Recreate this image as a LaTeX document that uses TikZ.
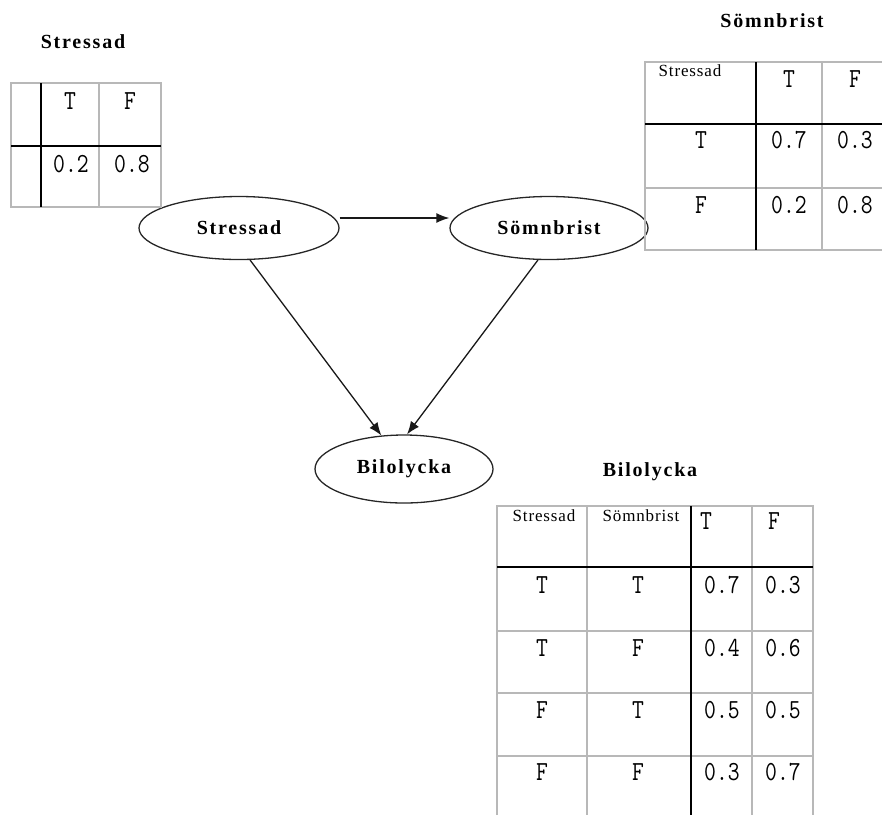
\documentclass[tikz,border=0pt]{standalone}
\usepackage{fontspec}
\usepackage{graphicx}
\usetikzlibrary{shapes.geometric,arrows.meta}
\setmainfont{Liberation Serif}
\newfontfamily\titlefont[LetterSpace=9]{Liberation Serif}
\newfontfamily\headfont[LetterSpace=5]{Liberation Serif}
\newcommand{\cellval}[1]{{\fontsize{23}{23}\ttfamily\scalebox{1}[1.2]{#1}}}
\begin{document}
\begin{tikzpicture}[x=1pt,y=-1pt,
  varnode/.style={ellipse,draw=black!85,line width=1.3pt,inner sep=0pt,
    font=\titlefont\bfseries\fontsize{20}{20}\selectfont},
  title/.style={inner sep=0pt,font=\titlefont\bfseries\fontsize{20}{20}\selectfont},
  head/.style={inner sep=0pt,font=\headfont\fontsize{17}{17}\selectfont},
  val/.style={inner sep=0pt},
  edge/.style={line width=1.3pt,draw=black!90,-{Latex[length=13pt,width=10pt]}},
  thin/.style={line width=1.5pt,draw=black!28},
  thick/.style={line width=2pt,draw=black}]
\useasboundingbox (0,0) rectangle (882,815);

% ---- nodes of the network ----
\node[varnode,minimum width=200pt,minimum height=63pt] (s) at (239,228) {Stressad};
\node[varnode,minimum width=198pt,minimum height=63pt] (m) at (549,228) {Sömnbrist};
\node[varnode,minimum width=178pt,minimum height=68pt] (b) at (404,469) {Bilolycka};

\draw[edge] ([yshift=10pt]s.east) -- ([yshift=10pt]m.west);
\draw[edge] (s.-71) -- (b.124);
\draw[edge] (m.-109) -- (b.85);

% ---- table: Stressad ----
\node[title] (ts) at (83,42) {Stressad};
\draw[thin] (11,83) rectangle (161,207);
\draw[thin] (99,83) -- (99,207);
\draw[thick] (41,83) -- (41,207);
\draw[thick] (11,146) -- (161,146);
\node[val] (s1) at (70,101) {\cellval{T}};
\node[val] (s2) at (130,101) {\cellval{F}};
\node[val] (s3) at (71,164) {\cellval{0.2}};
\node[val] (s4) at (132,164) {\cellval{0.8}};

% ---- table: Sömnbrist ----
\node[title] (tm) at (772,21) {Sömnbrist};
\draw[thin] (882,62) -- (645,62) -- (645,250) -- (882,250);
\draw[thin] (645,188) -- (882,188);
\draw[thin] (822,62) -- (822,250);
\draw[thick] (756,62) -- (756,250);
\draw[thick] (645,124) -- (882,124);
\node[head] (m0) at (690,71) {Stressad};
\node[val] (m1) at (789,79) {\cellval{T}};
\node[val] (m2) at (855,79) {\cellval{F}};
\node[val] (m3) at (701,140) {\cellval{T}};
\node[val] (m4) at (789,140) {\cellval{0.7}};
\node[val] (m5) at (855,140) {\cellval{0.3}};
\node[val] (m6) at (701,205) {\cellval{F}};
\node[val] (m7) at (789,205) {\cellval{0.2}};
\node[val] (m8) at (855,205) {\cellval{0.8}};

% ---- table: Bilolycka ----
\node[title] (tb) at (650,472) {Bilolycka};
\draw[thin] (497,815) -- (497,506) -- (813,506) -- (813,815);
\draw[thin] (587,506) -- (587,815);
\draw[thin] (752,506) -- (752,815);
\foreach \yy in {631,693,756} \draw[thin] (497,\yy) -- (813,\yy);
\draw[thick] (691,506) -- (691,815);
\draw[thick] (497,567) -- (813,567);
\node[head] (b01) at (544,516) {Stressad};
\node[head] (b02) at (641,516) {Sömnbrist};
\node[val] (b03) at (706,521) {\cellval{T}};
\node[val] (b04) at (774,521) {\cellval{F}};
\foreach \r/\yy/\a/\c/\p/\q in {1/585/T/T/0.7/0.3, 2/648/T/F/0.4/0.6, 3/710/F/T/0.5/0.5, 4/772/F/F/0.3/0.7}{
  \node[val] (br\r a) at (542,\yy) {\cellval{\a}};
  \node[val] (br\r b) at (638,\yy) {\cellval{\c}};
  \node[val] (br\r c) at (722,\yy) {\cellval{\p}};
  \node[val] (br\r d) at (783,\yy) {\cellval{\q}};
}
\end{tikzpicture}
\end{document}
